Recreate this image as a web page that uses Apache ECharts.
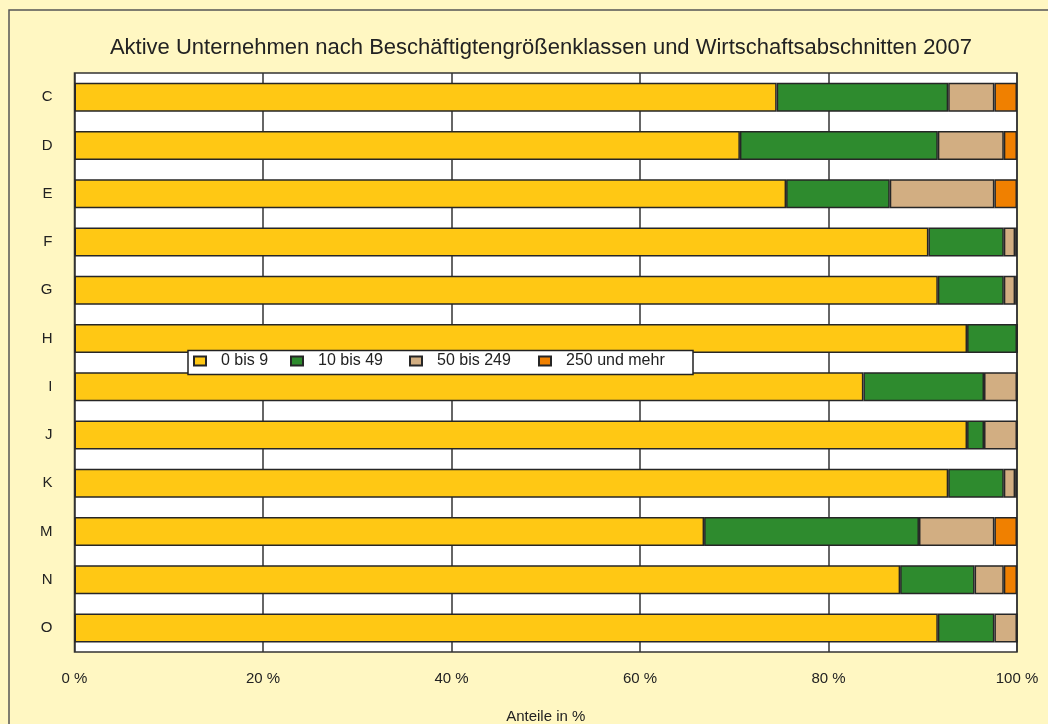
<!DOCTYPE html>
<html>
<head>
<meta charset="utf-8">
<script src="https://cdn.jsdelivr.net/npm/echarts@6/dist/echarts.min.js"></script>
<style>
  html, body { margin: 0; padding: 0; background: #fff; }
  #chart { width: 1048px; height: 724px; }
</style>
</head>
<body>
<div id="chart"></div>
<script>
const sections = ['C', 'D', 'E', 'F', 'G', 'H', 'I', 'J', 'K', 'M', 'N', 'O']
const sizeClasses = ['0 bis 9', '10 bis 49', '50 bis 249', '250 und mehr']
const size0to9 = [74.5, 70.6, 75.5, 90.6, 91.6, 94.7, 83.7, 94.7, 92.7, 66.8, 87.6, 91.6]
const size10to49 = [18.2, 21.0, 11.0, 8.0, 7.0, 5.3, 12.8, 1.8, 5.9, 22.8, 7.9, 6.0]
const size50to249 = [4.9, 7.0, 11.1, 1.2, 1.2, 0, 3.5, 3.5, 1.2, 8.0, 3.1, 2.4]
const size250plus = [2.4, 1.4, 2.4, 0.2, 0.2, 0, 0, 0, 0.2, 2.4, 1.4, 0]
const xTicks = [0, 20, 40, 60, 80, 100]

const myChart = echarts.init(document.getElementById('chart'), null, { renderer: 'canvas' })

const font = 'Liberation Sans, Arial, sans-serif'
const colors = ['#ffc814', '#2e8b2e', '#d2ae82', '#f08000']

function bar(i, data) {
  return {
    name: sizeClasses[i],
    type: 'bar',
    stack: 'total',
    data: data,
    barWidth: 29,
    itemStyle: {
      color: colors[i],
      borderColor: '#262626',
      borderWidth: 1.5
    }
  }
}

// one legend per entry, so the items sit where the original puts them
const legendLeft = [193, 290, 409, 538]
const legends = sizeClasses.map((name, i) => ({
  data: [name],
  left: legendLeft[i],
  top: 353,
  padding: 0,
  itemWidth: 12,
  itemHeight: 9,
  icon: 'rect',
  selectedMode: false,
  z: 5,
  textStyle: { fontFamily: font, fontSize: 16, color: '#222', padding: [0, 0, 0, 10] }
}))

const option = {
  backgroundColor: '#fff7c2',
  animation: false,
  graphic: [
    {
      type: 'rect',
      shape: { x: 9, y: 10, width: 1060, height: 740 },
      style: { fill: 'none', stroke: '#555', lineWidth: 1.5 },
      z: 0
    },
    {
      type: 'rect',
      shape: { x: 188, y: 350.5, width: 505, height: 24 },
      style: { fill: '#fff', stroke: '#222', lineWidth: 1.5 },
      z: 4
    }
  ],
  title: {
    text: 'Aktive Unternehmen nach Beschäftigtengrößenklassen und Wirtschaftsabschnitten 2007',
    left: 536,
    textAlign: 'center',
    top: 32,
    textStyle: { fontFamily: font, fontSize: 22, fontWeight: 'normal', color: '#222' }
  },
  legend: legends,
  grid: {
    left: 74.5,
    right: 31,
    top: 73,
    bottom: 72,
    outerBoundsMode: 'none',
    show: true,
    backgroundColor: '#fff',
    borderColor: '#333',
    borderWidth: 1.5
  },
  xAxis: {
    type: 'value',
    min: 0,
    max: 100,
    interval: 20,
    name: 'Anteile in %',
    nameLocation: 'middle',
    nameGap: 57,
    nameTextStyle: { fontFamily: font, fontSize: 15, color: '#222' },
    axisLine: { show: false },
    axisTick: { show: false },
    axisLabel: {
      margin: 19,
      fontFamily: font,
      fontSize: 15,
      color: '#222',
      formatter: v => xTicks.includes(v) ? v + ' %' : ''
    },
    splitLine: { show: true, lineStyle: { color: '#333', width: 1.5 } }
  },
  yAxis: {
    type: 'category',
    data: sections,
    inverse: true,
    axisLine: { show: false },
    axisTick: { show: false },
    axisLabel: { margin: 22, fontFamily: font, fontSize: 15, color: '#222' }
  },
  series: [
    bar(0, size0to9),
    bar(1, size10to49),
    bar(2, size50to249),
    bar(3, size250plus)
  ]
}

myChart.setOption(option)
</script>
</body>
</html>
